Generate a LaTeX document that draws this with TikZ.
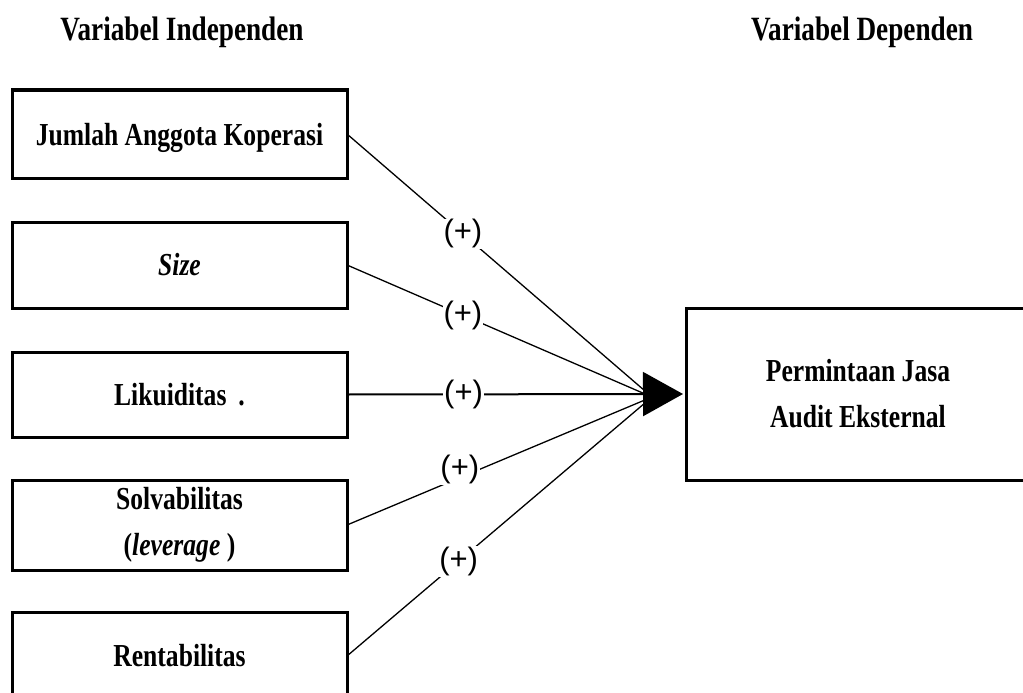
\documentclass[tikz,border=0pt]{standalone}
\usepackage{fontspec}
\setmainfont{Liberation Serif}
\newfontfamily\cond{Liberation Serif}[FakeStretch=0.8]
\newfontfamily\sansf{Liberation Sans}
\usetikzlibrary{arrows.meta}
\begin{document}
\begin{tikzpicture}[x=1pt,y=-1pt,
  varbox/.style={draw,line width=3pt,minimum width=335pt,inner sep=0pt,outer sep=0pt,
    font=\cond\bfseries\fontsize{32}{46}\selectfont,align=center},
  ttl/.style={font=\cond\bfseries\fontsize{34}{38}\selectfont},
  conn/.style={line width=1.3pt},
  sign/.style={fill=white,inner sep=1pt,font=\sansf\fontsize{31}{34}\selectfont}]
\useasboundingbox (0,0) rectangle (1023,693);
\clip (0,0) rectangle (1023,693);
\fill[white] (0,0) rectangle (1023,693);
% titles
\node[ttl] (t1) at (182,32) {Variabel Independen};
\node[ttl] (t2) at (862,32) {Variabel Dependen};
% boxes
\node[varbox,minimum height=88pt,text depth=-4pt] (b1) at (179.5,134) {Jumlah Anggota Koperasi};
\node[varbox,minimum height=86pt] (b2) at (179.5,265) {\textit{Size}};
\node[varbox,minimum height=85pt] (b3) at (179.5,394.5) {Likuiditas\hspace{12pt}.};
\node[varbox,minimum height=90pt] (b4) at (179.5,525) {\raisebox{-6pt}{Solvabilitas}\\\raisebox{-6pt}{(\textit{leverage} )}};
\node[varbox,minimum height=88pt] (b5) at (179.5,656) {Rentabilitas};
\node[varbox,minimum width=344pt,minimum height=172pt] (dep) at (858,394) {Permintaan Jasa\\Audit Eksternal};
% connectors
\coordinate (conv) at (652,397);
\draw[conn] (b1.east) -- node[sign,pos=.38]{(+)} (conv);
\draw[conn] (b2.east) -- node[sign,pos=.38]{(+)} (conv);
\draw[conn] (b4.east) -- node[sign,pos=.37,yshift=8pt]{(+)} (conv);
\draw[conn] (b5.east) -- node[sign,pos=.366]{(+)} (conv);
\draw[line width=2pt,-{Triangle[length=40pt,width=44pt]},shorten >=3pt] (b3.east) -- node[sign,pos=.344]{(+)} (dep.west);
\end{tikzpicture}
\end{document}
